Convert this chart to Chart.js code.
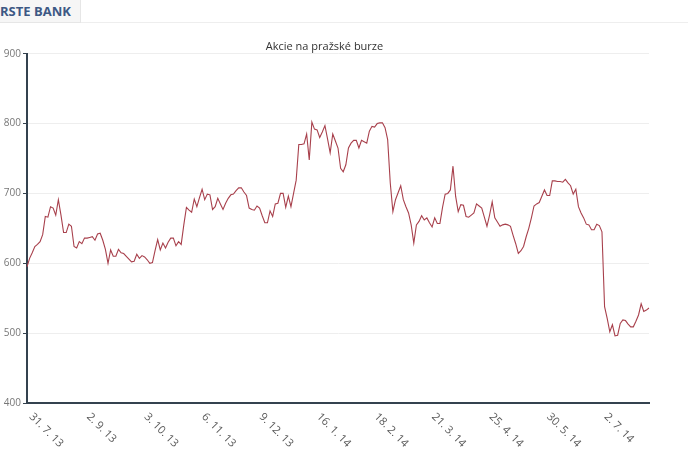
<!DOCTYPE html>
<html>
<head>
<meta charset="utf-8">
<script src="https://cdn.jsdelivr.net/npm/chart.js@4"></script>
<style>
  body { margin: 0; background: #fff; }
  #wrap { position: relative; width: 688px; height: 459px; }
  #tab { position: absolute; left: 0; top: 0; width: 80px; height: 22px; background: #f6f6f6;
         border-right: 1px solid #e6e6e6; border-bottom: 1px solid #e6e6e6;
         font: bold 13px "Open Sans", sans-serif; color: #3d5884; line-height: 22px; white-space: nowrap; overflow: hidden; }
  #line { position: absolute; left: 81px; top: 22px; width: 607px; height: 1px; background: #eeeeee; }
  canvas { position: absolute; left: 0; top: 0; }
</style>
</head>
<body>
<div id="wrap">
  <canvas id="myChart" width="688" height="459"></canvas>
  <div id="tab">RSTE BANK</div>
  <div id="line"></div>
</div>
<script>
// popisky osy x (kazdy 22. obchodni den)
const tickLabels = ['31. 7. 13', '2. 9. 13', '3. 10. 13', '6. 11. 13', '9. 12. 13', '16. 1. 14',
  '18. 2. 14', '21. 3. 14', '25. 4. 14', '30. 5. 14', '2. 7. 14'];
const tickStep = 22;

// zaviraci ceny (Kc)
const ceny = [
  595, 607, 615, 624, 627, 631, 641, 667, 666, 681, 679, 669, 691, 669, 644, 644, 656, 653, 624, 622,
  631, 628, 636, 636, 637, 638, 633, 642, 643, 633, 620, 600, 619, 610, 610, 620, 615, 614, 610, 606,
  602, 603, 613, 607, 611, 609, 605, 600, 601, 618, 634, 619, 629, 622, 630, 636, 636, 625, 631, 627,
  655, 680, 676, 673, 692, 681, 694, 706, 691, 699, 698, 677, 681, 693, 685, 677, 686, 693, 698, 699,
  704, 708, 708, 702, 697, 679, 677, 676, 682, 679, 668, 658, 658, 675, 667, 685, 686, 700, 700, 680,
  696, 681, 700, 719, 770, 770, 771, 785, 748, 802, 792, 791, 780, 788, 797, 778, 758, 785, 775, 765,
  736, 731, 741, 765, 772, 776, 776, 765, 776, 774, 772, 789, 796, 795, 800, 801, 801, 794, 777, 715,
  674, 691, 701, 711, 691, 681, 672, 655, 629, 655, 660, 668, 662, 665, 658, 652, 665, 657, 657, 680,
  699, 700, 705, 739, 696, 674, 684, 683, 667, 666, 669, 672, 685, 682, 679, 666, 653, 669, 688, 665,
  659, 653, 655, 656, 655, 653, 640, 628, 614, 618, 624, 638, 650, 665, 682, 685, 687, 696, 705, 697,
  697, 718, 718, 717, 717, 716, 720, 715, 711, 699, 706, 681, 672, 665, 656, 655, 648, 648, 656, 654,
  645, 538, 521, 502, 512, 496, 497, 514, 519, 518, 513, 509, 509, 517, 526, 542, 531, 533, 536
];

const labels = ceny.map((v, i) => i % tickStep === 0 ? tickLabels[i / tickStep] : '');

// sikme popisky dolu doprava
const popiskyX = {
  id: 'popiskyX',
  afterDraw(chart) {
    const ctx = chart.ctx;
    const x = chart.scales.x;
    ctx.save();
    ctx.font = '11px "Open Sans", sans-serif';
    ctx.fillStyle = '#5a5a5a';
    ctx.textAlign = 'left';
    ctx.textBaseline = 'middle';
    for (let i = 0; i < tickLabels.length; i++) {
      const px = x.getPixelForValue(i * tickStep);
      ctx.save();
      ctx.translate(px + 4, x.top + 12);
      ctx.rotate(Math.PI / 4);
      ctx.fillText(tickLabels[i], 0, 0);
      ctx.restore();
    }
    ctx.restore();
  }
};

new Chart(document.getElementById('myChart'), {
  type: 'line',
  data: {
    labels: labels,
    datasets: [{
      data: ceny,
      borderColor: '#a8404c',
      borderWidth: 1.1,
      pointRadius: 0,
      tension: 0
    }]
  },
  options: {
    responsive: false,
    animation: false,
    layout: { padding: { left: 0, right: 39, top: 0, bottom: 0 } },
    plugins: {
      legend: { display: false },
      tooltip: { enabled: false },
      title: {
        display: true,
        text: 'Akcie na pražské burze',
        color: '#333',
        font: { family: '"Open Sans", sans-serif', size: 11, weight: 'normal' },
        padding: { top: 40, bottom: 0.5 }
      }
    },
    scales: {
      x: {
        ticks: { display: false },
        grid: { display: false },
        border: { color: '#34424f', width: 2 },
        afterFit: s => { s.height = 56; }
      },
      y: {
        min: 400,
        max: 900,
        ticks: {
          stepSize: 100,
          color: '#777',
          padding: 2,
          font: { family: '"Open Sans", sans-serif', size: 10 }
        },
        grid: { color: '#eeeeee', tickColor: '#34424f', tickLength: 4 },
        border: { color: '#34424f', width: 2 },
        afterFit: s => { s.width = 27; }
      }
    }
  },
  plugins: [popiskyX]
});
</script>
</body>
</html>
